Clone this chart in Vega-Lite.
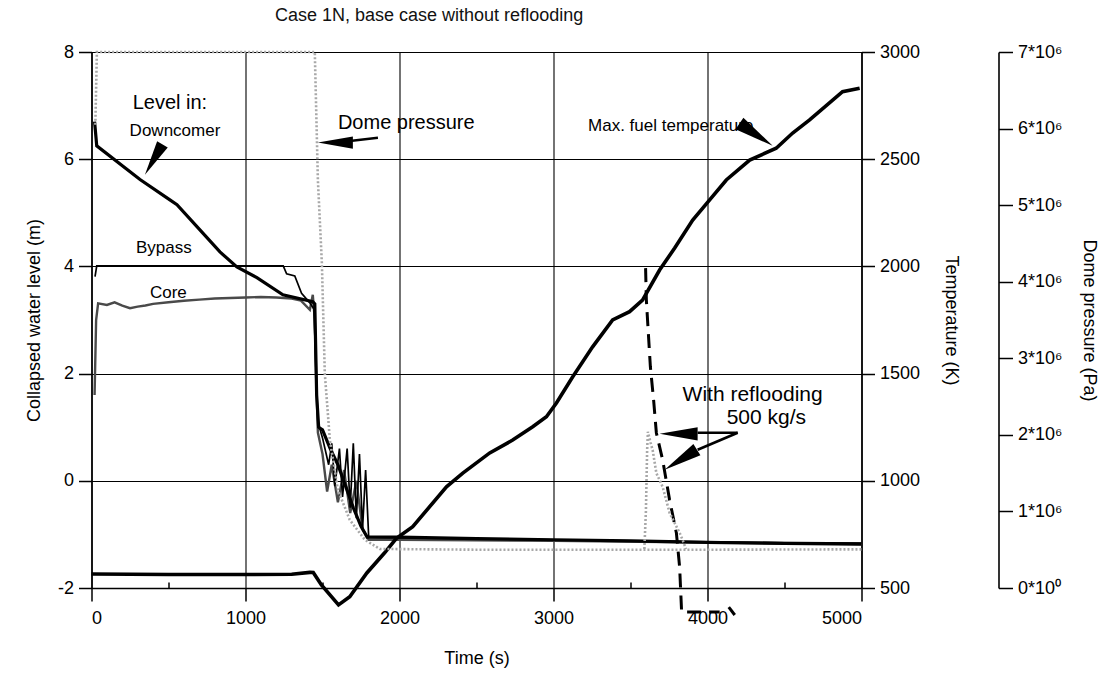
{
  "$schema": "https://vega.github.io/schema/vega-lite/v6.json",
  "width": 770,
  "height": 536,
  "autosize": {"type": "none"},
  "padding": {"left": 91.5, "top": 52, "right": 251.5, "bottom": 85},
  "background": "white",
  "title": {"text": "Case 1N, base case without reflooding", "fontSize": 18, "font": "Liberation Sans", "fontWeight": "normal", "anchor": "start", "frame": "group", "dx": 183.5, "offset": 18, "color": "#111"},
  "config": {
    "view": {"stroke": null},
    "axis": {"domainColor": "black", "tickColor": "black", "gridColor": "black", "labelColor": "black", "titleColor": "black", "labelFont": "Liberation Sans", "titleFont": "Liberation Sans", "labelFontSize": 18, "titleFontSize": 18, "titleFontWeight": "normal", "domainWidth": 1.6, "tickWidth": 1.5, "gridWidth": 1.1}
  },
  "datasets": {
    "lev": [
      {"s": "DC", "t": 20, "v": 6.7}, {"s": "DC", "t": 34, "v": 6.25}, {"s": "DC", "t": 315, "v": 5.62}, {"s": "DC", "t": 509, "v": 5.24}, {"s": "DC", "t": 555, "v": 5.15}, {"s": "DC", "t": 704, "v": 4.68}, {"s": "DC", "t": 834, "v": 4.27}, {"s": "DC", "t": 944, "v": 3.99}, {"s": "DC", "t": 1074, "v": 3.79}, {"s": "DC", "t": 1243, "v": 3.47}, {"s": "DC", "t": 1437, "v": 3.34}, {"s": "DC", "t": 1450, "v": 3.3}, {"s": "DC", "t": 1462, "v": 1.6}, {"s": "DC", "t": 1475, "v": 1.0}, {"s": "DC", "t": 1500, "v": 0.95}, {"s": "DC", "t": 1550, "v": 0.6}, {"s": "DC", "t": 1600, "v": 0.3}, {"s": "DC", "t": 1650, "v": -0.1}, {"s": "DC", "t": 1700, "v": -0.5}, {"s": "DC", "t": 1750, "v": -0.85}, {"s": "DC", "t": 1790, "v": -1.05}, {"s": "DC", "t": 1850, "v": -1.05}, {"s": "DC", "t": 2000, "v": -1.05}, {"s": "DC", "t": 2500, "v": -1.08}, {"s": "DC", "t": 3000, "v": -1.1}, {"s": "DC", "t": 3500, "v": -1.12}, {"s": "DC", "t": 4000, "v": -1.15}, {"s": "DC", "t": 4500, "v": -1.17}, {"s": "DC", "t": 5000, "v": -1.18},
      {"s": "BP", "t": 23, "v": 3.81}, {"s": "BP", "t": 34, "v": 4.01}, {"s": "BP", "t": 1245, "v": 4.01}, {"s": "BP", "t": 1267, "v": 3.86}, {"s": "BP", "t": 1320, "v": 3.82}, {"s": "BP", "t": 1364, "v": 3.5}, {"s": "BP", "t": 1418, "v": 3.32}, {"s": "BP", "t": 1445, "v": 3.2}, {"s": "BP", "t": 1458, "v": 2.0}, {"s": "BP", "t": 1470, "v": 1.1}, {"s": "BP", "t": 1500, "v": 0.8}, {"s": "BP", "t": 1540, "v": 0.3}, {"s": "BP", "t": 1560, "v": 0.7}, {"s": "BP", "t": 1580, "v": -0.1}, {"s": "BP", "t": 1610, "v": 0.6}, {"s": "BP", "t": 1630, "v": -0.3}, {"s": "BP", "t": 1660, "v": 0.6}, {"s": "BP", "t": 1680, "v": -0.5}, {"s": "BP", "t": 1700, "v": 0.7}, {"s": "BP", "t": 1720, "v": -0.7}, {"s": "BP", "t": 1740, "v": 0.5}, {"s": "BP", "t": 1760, "v": -0.9}, {"s": "BP", "t": 1780, "v": 0.2}, {"s": "BP", "t": 1800, "v": -1.05}, {"s": "BP", "t": 1900, "v": -1.06}, {"s": "BP", "t": 3000, "v": -1.1}, {"s": "BP", "t": 4000, "v": -1.14}, {"s": "BP", "t": 5000, "v": -1.16},
      {"s": "CO", "t": 20, "v": 1.6}, {"s": "CO", "t": 30, "v": 3.0}, {"s": "CO", "t": 43, "v": 3.31}, {"s": "CO", "t": 100, "v": 3.28}, {"s": "CO", "t": 150, "v": 3.33}, {"s": "CO", "t": 200, "v": 3.27}, {"s": "CO", "t": 250, "v": 3.22}, {"s": "CO", "t": 300, "v": 3.25}, {"s": "CO", "t": 350, "v": 3.27}, {"s": "CO", "t": 400, "v": 3.3}, {"s": "CO", "t": 500, "v": 3.33}, {"s": "CO", "t": 600, "v": 3.36}, {"s": "CO", "t": 700, "v": 3.38}, {"s": "CO", "t": 800, "v": 3.4}, {"s": "CO", "t": 900, "v": 3.41}, {"s": "CO", "t": 1000, "v": 3.42}, {"s": "CO", "t": 1100, "v": 3.43}, {"s": "CO", "t": 1200, "v": 3.42}, {"s": "CO", "t": 1300, "v": 3.4}, {"s": "CO", "t": 1360, "v": 3.36}, {"s": "CO", "t": 1418, "v": 3.19}, {"s": "CO", "t": 1437, "v": 3.47}, {"s": "CO", "t": 1450, "v": 3.0}, {"s": "CO", "t": 1460, "v": 1.8}, {"s": "CO", "t": 1470, "v": 0.9}, {"s": "CO", "t": 1500, "v": 0.5}, {"s": "CO", "t": 1530, "v": -0.2}, {"s": "CO", "t": 1560, "v": 0.3}, {"s": "CO", "t": 1600, "v": -0.4}, {"s": "CO", "t": 1640, "v": 0.2}, {"s": "CO", "t": 1680, "v": -0.6}, {"s": "CO", "t": 1720, "v": 0.0}, {"s": "CO", "t": 1760, "v": -0.9}, {"s": "CO", "t": 1800, "v": -1.1}, {"s": "CO", "t": 2000, "v": -1.1}, {"s": "CO", "t": 3000, "v": -1.12}, {"s": "CO", "t": 4000, "v": -1.15}, {"s": "CO", "t": 5000, "v": -1.18}
    ],
    "tmp": [
      {"s": "TF", "t": 0, "v": 565}, {"s": "TF", "t": 500, "v": 563}, {"s": "TF", "t": 1000, "v": 563}, {"s": "TF", "t": 1300, "v": 564}, {"s": "TF", "t": 1418, "v": 573}, {"s": "TF", "t": 1440, "v": 572}, {"s": "TF", "t": 1493, "v": 514}, {"s": "TF", "t": 1604, "v": 421}, {"s": "TF", "t": 1677, "v": 459}, {"s": "TF", "t": 1788, "v": 570}, {"s": "TF", "t": 1902, "v": 663}, {"s": "TF", "t": 1980, "v": 732}, {"s": "TF", "t": 2086, "v": 786}, {"s": "TF", "t": 2305, "v": 972}, {"s": "TF", "t": 2411, "v": 1036}, {"s": "TF", "t": 2586, "v": 1130}, {"s": "TF", "t": 2735, "v": 1190}, {"s": "TF", "t": 2865, "v": 1252}, {"s": "TF", "t": 2954, "v": 1299}, {"s": "TF", "t": 3019, "v": 1363}, {"s": "TF", "t": 3125, "v": 1485}, {"s": "TF", "t": 3254, "v": 1625}, {"s": "TF", "t": 3384, "v": 1750}, {"s": "TF", "t": 3494, "v": 1789}, {"s": "TF", "t": 3578, "v": 1843}, {"s": "TF", "t": 3689, "v": 1983}, {"s": "TF", "t": 3787, "v": 2086}, {"s": "TF", "t": 3904, "v": 2216}, {"s": "TF", "t": 4014, "v": 2310}, {"s": "TF", "t": 4122, "v": 2403}, {"s": "TF", "t": 4274, "v": 2496}, {"s": "TF", "t": 4446, "v": 2551}, {"s": "TF", "t": 4553, "v": 2622}, {"s": "TF", "t": 4663, "v": 2683}, {"s": "TF", "t": 4877, "v": 2815}, {"s": "TF", "t": 4988, "v": 2831},
      {"s": "TR", "t": 3598, "v": 1992}, {"s": "TR", "t": 3603, "v": 1843}, {"s": "TR", "t": 3629, "v": 1532}, {"s": "TR", "t": 3650, "v": 1377}, {"s": "TR", "t": 3668, "v": 1223}, {"s": "TR", "t": 3709, "v": 1097}, {"s": "TR", "t": 3754, "v": 910}, {"s": "TR", "t": 3798, "v": 757}, {"s": "TR", "t": 3819, "v": 598}, {"s": "TR", "t": 3832, "v": 388}, {"s": "TR", "t": 4079, "v": 388},
      {"s": "TR2", "t": 4138, "v": 411}, {"s": "TR2", "t": 4177, "v": 374}
    ],
    "prs": [
      {"s": "P", "t": 25, "v": 6050000}, {"s": "P", "t": 35, "v": 7000000}, {"s": "P", "t": 1450, "v": 7000000}, {"s": "P", "t": 1470, "v": 5330000}, {"s": "P", "t": 1496, "v": 4240000}, {"s": "P", "t": 1515, "v": 2800000}, {"s": "P", "t": 1548, "v": 1930000}, {"s": "P", "t": 1600, "v": 1280000}, {"s": "P", "t": 1677, "v": 890000}, {"s": "P", "t": 1775, "v": 630000}, {"s": "P", "t": 1872, "v": 510000}, {"s": "P", "t": 2500, "v": 500000}, {"s": "P", "t": 3000, "v": 500000}, {"s": "P", "t": 4000, "v": 500000}, {"s": "P", "t": 5000, "v": 505000},
      {"s": "PR", "t": 3590, "v": 510000}, {"s": "PR", "t": 3600, "v": 1000000}, {"s": "PR", "t": 3608, "v": 1800000}, {"s": "PR", "t": 3613, "v": 2040000}, {"s": "PR", "t": 3630, "v": 1900000}, {"s": "PR", "t": 3644, "v": 1800000}, {"s": "PR", "t": 3668, "v": 1500000}, {"s": "PR", "t": 3709, "v": 1320000}, {"s": "PR", "t": 3754, "v": 980000}, {"s": "PR", "t": 3819, "v": 720000}, {"s": "PR", "t": 3838, "v": 630000}, {"s": "PR", "t": 3860, "v": 510000}
    ],
    "labels": [
      {"text": "Level in:", "t": 509, "v": 7.05},
      {"text": "Downcomer", "t": 542, "v": 6.52},
      {"text": "Bypass", "t": 470, "v": 4.35},
      {"text": "Core", "t": 499, "v": 3.51},
      {"text": "Dome pressure", "t": 1600, "v": 6.68},
      {"text": "Max. fuel temperature", "t": 3761, "v": 6.62},
      {"text": "With reflooding", "t": 4293, "v": 1.6},
      {"text": "500 kg/s", "t": 4382, "v": 1.17}
    ],
    "shafts": [
      {"a": "dome", "t": 1678, "v": 6.34, "t2": 1860, "v2": 6.4},
      {"a": "r1", "t": 3936, "v": 0.896, "t2": 4196, "v2": 0.896},
      {"a": "r2", "t": 3936, "v": 0.578, "t2": 4196, "v2": 0.896}
    ],
    "heads": [
      {"a": "dc", "t": 347, "v": 5.71},
      {"a": "dome", "t": 1470, "v": 6.31},
      {"a": "fuel", "t": 4423, "v": 6.25},
      {"a": "r1", "t": 3689, "v": 0.877},
      {"a": "r2", "t": 3722, "v": 0.205}
    ]
  },
  "layer": [
    {
      "layer": [
        {
          "data": {"name": "lev"},
          "transform": [{"filter": "datum.s === 'CO'"}],
          "mark": {"type": "line", "color": "#4a4a4a", "strokeWidth": 2.4},
          "encoding": {
            "x": {"field": "t", "type": "quantitative", "scale": {"domain": [0, 5000], "nice": false},
              "axis": {"title": "Time (s)", "titlePadding": 22, "values": [0, 500, 1000, 1500, 2000, 2500, 3000, 3500, 4000, 4500, 5000],
                "labelExpr": "datum.value % 1000 === 0 ? (datum.value + '') : ''", "labelPadding": 8,
                "tickSize": {"condition": {"test": "datum.value % 1000 === 0", "value": 13}, "value": -6},
                "gridOpacity": {"condition": {"test": "datum.value % 1000 === 0", "value": 1}, "value": 0},
                "grid": true, "domain": true}},
            "y": {"field": "v", "type": "quantitative", "scale": {"domain": [-2, 8], "nice": false, "zero": false},
              "axis": {"orient": "left", "title": "Collapsed water level (m)", "values": [-2, 0, 2, 4, 6, 8], "labelExpr": "datum.value + ''", "tickSize": 13, "labelPadding": 5, "titlePadding": 14, "grid": true}}
          }
        },
        {
          "data": {"name": "lev"},
          "transform": [{"filter": "datum.s === 'BP'"}],
          "mark": {"type": "line", "color": "black", "strokeWidth": 1.7},
          "encoding": {"x": {"field": "t", "type": "quantitative"}, "y": {"field": "v", "type": "quantitative"}}
        },
        {
          "data": {"name": "lev"},
          "transform": [{"filter": "datum.s === 'DC'"}],
          "mark": {"type": "line", "color": "black", "strokeWidth": 3.2},
          "encoding": {"x": {"field": "t", "type": "quantitative"}, "y": {"field": "v", "type": "quantitative"}}
        },
        {
          "data": {"name": "labels"},
          "transform": [{"filter": {"field": "text", "oneOf": ["Downcomer", "Bypass", "Core", "Max. fuel temperature"]}}],
          "mark": {"type": "text", "font": "Liberation Sans", "fontSize": 17, "color": "black", "align": "center", "baseline": "middle"},
          "encoding": {"x": {"field": "t", "type": "quantitative"}, "y": {"field": "v", "type": "quantitative"}, "text": {"field": "text"}}
        },
        {
          "data": {"name": "labels"},
          "transform": [{"filter": {"field": "text", "oneOf": ["Level in:"]}}],
          "mark": {"type": "text", "font": "Liberation Sans", "fontSize": 20, "color": "black", "align": "center", "baseline": "middle"},
          "encoding": {"x": {"field": "t", "type": "quantitative"}, "y": {"field": "v", "type": "quantitative"}, "text": {"field": "text"}}
        },
        {
          "data": {"name": "labels"},
          "transform": [{"filter": {"field": "text", "oneOf": ["Dome pressure"]}}],
          "mark": {"type": "text", "font": "Liberation Sans", "fontSize": 20, "color": "black", "align": "left", "baseline": "middle"},
          "encoding": {"x": {"field": "t", "type": "quantitative"}, "y": {"field": "v", "type": "quantitative"}, "text": {"field": "text"}}
        },
        {
          "data": {"name": "labels"},
          "transform": [{"filter": {"field": "text", "oneOf": ["With reflooding", "500 kg/s"]}}],
          "mark": {"type": "text", "font": "Liberation Sans", "fontSize": 21, "color": "black", "align": "center", "baseline": "middle"},
          "encoding": {"x": {"field": "t", "type": "quantitative"}, "y": {"field": "v", "type": "quantitative"}, "text": {"field": "text"}}
        },
        {
          "data": {"name": "shafts"},
          "mark": {"type": "rule", "color": "black", "strokeWidth": 2.6},
          "encoding": {"x": {"field": "t", "type": "quantitative"}, "y": {"field": "v", "type": "quantitative"}, "x2": {"field": "t2"}, "y2": {"field": "v2"}}
        },
        {
          "data": {"name": "heads"},
          "transform": [{"filter": "datum.a === 'dc'"}],
          "mark": {"type": "point", "shape": "M0,0L0.35,2L-0.35,2Z", "filled": true, "color": "black", "opacity": 1, "size": 1225, "angle": 210},
          "encoding": {"x": {"field": "t", "type": "quantitative"}, "y": {"field": "v", "type": "quantitative"}}
        },
        {
          "data": {"name": "heads"},
          "transform": [{"filter": "datum.a === 'dome'"}],
          "mark": {"type": "point", "shape": "M0,0L0.35,2L-0.35,2Z", "filled": true, "color": "black", "opacity": 1, "size": 1225, "angle": 270},
          "encoding": {"x": {"field": "t", "type": "quantitative"}, "y": {"field": "v", "type": "quantitative"}}
        },
        {
          "data": {"name": "heads"},
          "transform": [{"filter": "datum.a === 'fuel'"}],
          "mark": {"type": "point", "shape": "M0,0L0.35,2L-0.35,2Z", "filled": true, "color": "black", "opacity": 1, "size": 1600, "angle": 124},
          "encoding": {"x": {"field": "t", "type": "quantitative"}, "y": {"field": "v", "type": "quantitative"}}
        },
        {
          "data": {"name": "heads"},
          "transform": [{"filter": "datum.a === 'r1'"}],
          "mark": {"type": "point", "shape": "M0,0L0.35,2L-0.35,2Z", "filled": true, "color": "black", "opacity": 1, "size": 1444, "angle": 270},
          "encoding": {"x": {"field": "t", "type": "quantitative"}, "y": {"field": "v", "type": "quantitative"}}
        },
        {
          "data": {"name": "heads"},
          "transform": [{"filter": "datum.a === 'r2'"}],
          "mark": {"type": "point", "shape": "M0,0L0.35,2L-0.35,2Z", "filled": true, "color": "black", "opacity": 1, "size": 1444, "angle": 238},
          "encoding": {"x": {"field": "t", "type": "quantitative"}, "y": {"field": "v", "type": "quantitative"}}
        }
      ]
    },
    {
      "layer": [
        {
          "data": {"name": "tmp"},
          "transform": [{"filter": "datum.s === 'TF'"}],
          "mark": {"type": "line", "color": "black", "strokeWidth": 3.6},
          "encoding": {
            "x": {"field": "t", "type": "quantitative"},
            "y": {"field": "v", "type": "quantitative", "scale": {"domain": [500, 3000], "nice": false, "zero": false},
              "axis": {"orient": "right", "title": "Temperature (K)", "values": [500, 1000, 1500, 2000, 2500, 3000], "labelExpr": "datum.value + ''", "tickSize": 13, "labelPadding": 5, "titlePadding": 22, "grid": false}}
          }
        },
        {
          "data": {"name": "tmp"},
          "transform": [{"filter": "datum.s === 'TR' || datum.s === 'TR2'"}],
          "mark": {"type": "line", "color": "black", "strokeWidth": 3, "strokeDash": [14, 8]},
          "encoding": {"x": {"field": "t", "type": "quantitative"}, "y": {"field": "v", "type": "quantitative"}, "detail": {"field": "s"}}
        }
      ]
    },
    {
      "layer": [
        {
          "data": {"name": "prs"},
          "mark": {"type": "line", "color": "#a8a8a8", "strokeWidth": 2.6, "strokeDash": [2, 2]},
          "encoding": {
            "x": {"field": "t", "type": "quantitative"},
            "detail": {"field": "s"},
            "y": {"field": "v", "type": "quantitative", "scale": {"domain": [0, 7000000], "nice": false, "zero": false},
              "axis": {"orient": "right", "offset": 137, "title": "Dome pressure (Pa)", "values": [0, 1000000, 2000000, 3000000, 4000000, 5000000, 6000000, 7000000],
                "labelExpr": "(datum.value / 1000000) + '*10' + (datum.value === 0 ? '⁰' : '⁶')",
                "tickSize": 14, "labelPadding": 5, "titlePadding": 18, "grid": false}}
          }
        }
      ]
    }
  ],
  "resolve": {"scale": {"y": "independent"}}
}
